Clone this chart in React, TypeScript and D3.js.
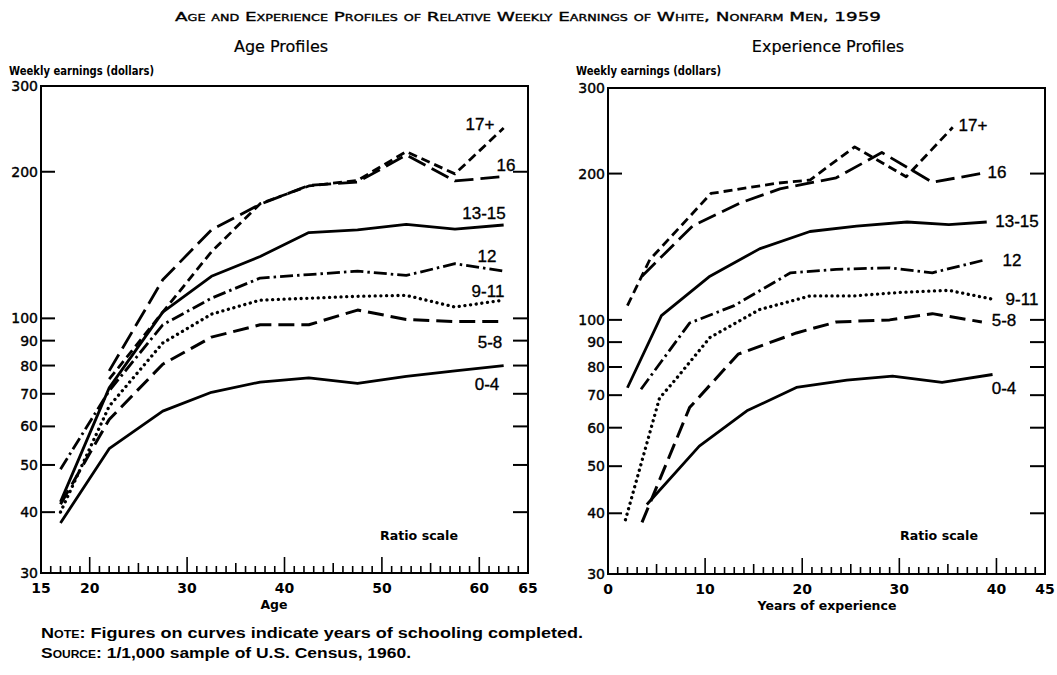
import * as d3 from 'd3'

// * Age profiles (x = age, y = weekly earnings in dollars)
const AGES = [17, 22, 27.5, 32.5, 37.5, 42.5, 47.5, 52.5, 57.5, 62.5]
const AGE_0_4 = [38, 54, 64.5, 70.5, 74, 75.5, 73.5, 76, 78, 80]
const AGE_5_8 = [41.5, 62, 80.5, 91.5, 97, 97, 104, 99.5, 98.5, 98.5]
const AGE_9_11 = [40, 66, 89, 102, 109, 110, 111, 111.5, 105.5, 109]
const AGE_12 = [49, 71, 97, 110, 121, 123, 125, 122.5, 129.5, 125]
const AGE_13_15 = [42, 72, 103, 122, 134, 150, 152, 156, 152.5, 155.5]
const AGE_16 = [null, 78, 120, 152, 171.5, 187.5, 190.5, 216.5, 191.5, 195.5]
const AGE_17 = [null, 75, 103, 137, 172, 187, 192, 220, 198, 246]

// * Experience profiles (x = years of experience)
const EXP_0_4_X = [4, 9.4, 14.3, 19.4, 24.6, 29.3, 34.4, 39.6]
const EXP_0_4 = [41.7, 55, 65, 72.6, 75.2, 76.6, 74.4, 77.2]
const EXP_5_8_X = [3.5, 8.4, 13.4, 19.4, 23.5, 29, 33.4, 38.5]
const EXP_5_8 = [38.3, 66, 85, 94, 99, 100, 103, 99]
const EXP_9_11_X = [1.8, 5.3, 7.1, 10.5, 15.6, 20.8, 25.2, 30.3, 35.1, 39.9]
const EXP_9_11 = [38.8, 69, 76, 92, 105, 112, 112, 114, 115, 110]
const EXP_12_X = [3.4, 8.4, 13, 18.8, 23.5, 28.9, 33.4, 38.9]
const EXP_12 = [72, 98.5, 107, 125, 127, 128, 125, 133]
const EXP_13_15_X = [2, 5.5, 10.5, 15.6, 20.8, 25.6, 30.8, 35.1, 39]
const EXP_13_15 = [72.5, 102, 123, 140, 152, 156, 159, 157, 159]
const EXP_16_X = [3.5, 8.7, 13.6, 17.7, 23.5, 28.2, 33.4, 39]
const EXP_16 = [123, 156, 174, 186, 196, 221, 192, 201]
const EXP_17_X = [2, 4.3, 10.6, 17.3, 20.8, 25.4, 30.7, 35.5]
const EXP_17 = [107, 133, 182, 191, 194, 227, 197, 249]

const SCHOOLING = ['0-4', '5-8', '9-11', '12', '13-15', '16', '17+']
const Y_LABELS = [30, 40, 50, 60, 70, 80, 90, 100, 200, 300]
const Y_MARKS = [40, 50, 60, 70, 80, 90, 100, 200]
const AGE_TICKS = [15, 20, 30, 40, 50, 60, 65]
const EXP_TICKS = [0, 10, 20, 30, 40, 45]

// line look per schooling group
const STYLE: Record<string, { dash: string; width: number; cap: 'butt' | 'round' }> = {
  '0-4': { dash: 'none', width: 2.8, cap: 'butt' },
  '5-8': { dash: '16,7', width: 3, cap: 'butt' },
  '9-11': { dash: '0.1,5.6', width: 3.3, cap: 'round' },
  '12': { dash: '13,4,2.5,4', width: 2.8, cap: 'butt' },
  '13-15': { dash: 'none', width: 2.8, cap: 'butt' },
  '16': { dash: '19,7', width: 2.8, cap: 'butt' },
  '17+': { dash: '9,5', width: 2.8, cap: 'butt' },
}

type Pt = [number, number]
const zip = (xs: number[], ys: (number | null)[]): Pt[] =>
  xs.map((x, i) => [x, ys[i]] as [number, number | null]).filter((p) => p[1] != null) as Pt[]

const ageSeries: Record<string, Pt[]> = {
  '0-4': zip(AGES, AGE_0_4),
  '5-8': zip(AGES, AGE_5_8),
  '9-11': zip(AGES, AGE_9_11),
  '12': zip(AGES, AGE_12),
  '13-15': zip(AGES, AGE_13_15),
  '16': zip(AGES, AGE_16),
  '17+': zip(AGES, AGE_17),
}
const expSeries: Record<string, Pt[]> = {
  '0-4': zip(EXP_0_4_X, EXP_0_4),
  '5-8': zip(EXP_5_8_X, EXP_5_8),
  '9-11': zip(EXP_9_11_X, EXP_9_11),
  '12': zip(EXP_12_X, EXP_12),
  '13-15': zip(EXP_13_15_X, EXP_13_15),
  '16': zip(EXP_16_X, EXP_16),
  '17+': zip(EXP_17_X, EXP_17),
}

// curve name placement (pixels)
const AGE_LABEL_POS: Record<string, Pt> = {
  '17+': [480, 130], '16': [506, 171], '13-15': [484, 219], '12': [487, 262],
  '9-11': [488, 297], '5-8': [490, 348], '0-4': [487, 390],
}
const EXP_LABEL_POS: Record<string, Pt> = {
  '17+': [973, 131], '16': [997, 178], '13-15': [1017, 227], '12': [1012, 266],
  '9-11': [1022, 305], '5-8': [1004, 326], '0-4': [1004, 394],
}

const CHART_FONT = '"DejaVu Sans", sans-serif'
const LABEL_FONT = '"Liberation Sans", Arial, sans-serif'

interface PanelProps {
  x: d3.ScaleLinear<number, number>
  y: d3.ScaleLogarithmic<number, number>
  data: Record<string, Pt[]>
  ticks: number[]
  title: string
  titleX: number
  axisTitle: string
  axisTitleX: number
  labelPos: Record<string, Pt>
  ratioX: number
}

function Panel({ x, y, data, ticks, title, titleX, axisTitle, axisTitleX, labelPos, ratioX }: PanelProps) {
  const [x0, x1] = x.range()
  const [yb, yt] = y.range()
  const [d0, d1] = x.domain()
  const line = d3
    .line<Pt>()
    .x((d) => x(d[0]))
    .y((d) => y(d[1]))

  return (
    <g>
      <text x={titleX} y={52} textAnchor="middle" fontFamily={CHART_FONT} fontSize={16} stroke="#000" strokeWidth={0.2}>
        {title}
      </text>
      <text x={x0 - 32} y={75} fontFamily={CHART_FONT} fontWeight="bold" fontSize={11.5} textLength={145} lengthAdjust="spacingAndGlyphs">
        Weekly earnings (dollars)
      </text>

      {/* frame */}
      <rect x={x0} y={yt} width={x1 - x0} height={yb - yt} fill="none" stroke="#000" strokeWidth={2} />

      {/* y ticks, inward on both sides */}
      {Y_MARKS.map((v) => (
        <g key={v}>
          <line x1={x0} x2={x0 + 14} y1={y(v)} y2={y(v)} stroke="#000" strokeWidth={2} />
          <line x1={x1 - 15} x2={x1} y1={y(v)} y2={y(v)} stroke="#000" strokeWidth={2} />
        </g>
      ))}
      {Y_LABELS.map((v) => (
        <text key={v} x={x0 - 3} y={y(v) + 5} textAnchor="end" fontFamily={CHART_FONT} fontSize={14} stroke="#000" strokeWidth={0.4}>
          {v}
        </text>
      ))}

      {/* x ticks: every unit, taller on fives and tens */}
      {d3.range(d0, d1 + 1).map((v) => {
        const len = v % 10 === 0 ? 16 : v % 5 === 0 ? 10 : 7
        return <line key={v} x1={x(v)} x2={x(v)} y1={yb} y2={yb - len} stroke="#000" strokeWidth={1.6} />
      })}
      {ticks.map((v) => (
        <text key={v} x={x(v)} y={yb + 20} textAnchor="middle" fontFamily={CHART_FONT} fontWeight="bold" fontSize={14}>
          {v}
        </text>
      ))}
      <text x={axisTitleX} y={yb + 36} textAnchor="middle" fontFamily={CHART_FONT} fontWeight="bold" fontSize={12.5}>
        {axisTitle}
      </text>
      <text x={ratioX} y={540} fontFamily={CHART_FONT} fontWeight="bold" fontSize={12} textLength={78} lengthAdjust="spacingAndGlyphs">
        Ratio scale
      </text>

      {/* curves */}
      {SCHOOLING.map((k) => {
        const s = STYLE[k]
        return (
          <path
            key={k}
            d={line(data[k]) ?? ''}
            fill="none"
            stroke="#000"
            strokeWidth={s.width}
            strokeDasharray={s.dash}
            strokeLinecap={s.cap}
            strokeLinejoin="round"
          />
        )
      })}
      {SCHOOLING.map((k) => (
        <text key={k} x={labelPos[k][0]} y={labelPos[k][1]} textAnchor="middle" fontFamily={LABEL_FONT} fontSize={17} stroke="#000" strokeWidth={0.35}>
          {k}
        </text>
      ))}
    </g>
  )
}

export default function App() {
  const ageX = d3.scaleLinear().domain([15, 65]).range([41, 528])
  const ageY = d3.scaleLog().domain([30, 300]).range([573, 86])
  const expX = d3.scaleLinear().domain([0, 45]).range([608, 1045])
  const expY = d3.scaleLog().domain([30, 300]).range([574, 88])

  return (
    <svg width={1057} height={675} style={{ position: 'absolute', left: 0, top: 0, background: '#fff' }}>
      <text x={528} y={21} textAnchor="middle" fontFamily={CHART_FONT} fontSize={13} stroke="#000" strokeWidth={0.35}
        style={{ fontVariant: 'small-caps' }} textLength={706} lengthAdjust="spacingAndGlyphs">
        Age and Experience Profiles of Relative Weekly Earnings of White, Nonfarm Men, 1959
      </text>

      <Panel x={ageX} y={ageY} data={ageSeries} ticks={AGE_TICKS} title="Age Profiles" titleX={281}
        axisTitle="Age" axisTitleX={274} labelPos={AGE_LABEL_POS} ratioX={380} />
      <Panel x={expX} y={expY} data={expSeries} ticks={EXP_TICKS} title="Experience Profiles" titleX={828}
        axisTitle="Years of experience" axisTitleX={827} labelPos={EXP_LABEL_POS} ratioX={900} />

      <text x={41} y={638} fontFamily={LABEL_FONT} fontWeight="bold" fontSize={14.5} textLength={542} lengthAdjust="spacingAndGlyphs">
        <tspan style={{ fontVariant: 'small-caps' }}>Note</tspan>: Figures on curves indicate years of schooling completed.
      </text>
      <text x={41} y={658} fontFamily={LABEL_FONT} fontWeight="bold" fontSize={14.5} textLength={370} lengthAdjust="spacingAndGlyphs">
        <tspan style={{ fontVariant: 'small-caps' }}>Source</tspan>: 1/1,000 sample of U.S. Census, 1960.
      </text>
    </svg>
  )
}
